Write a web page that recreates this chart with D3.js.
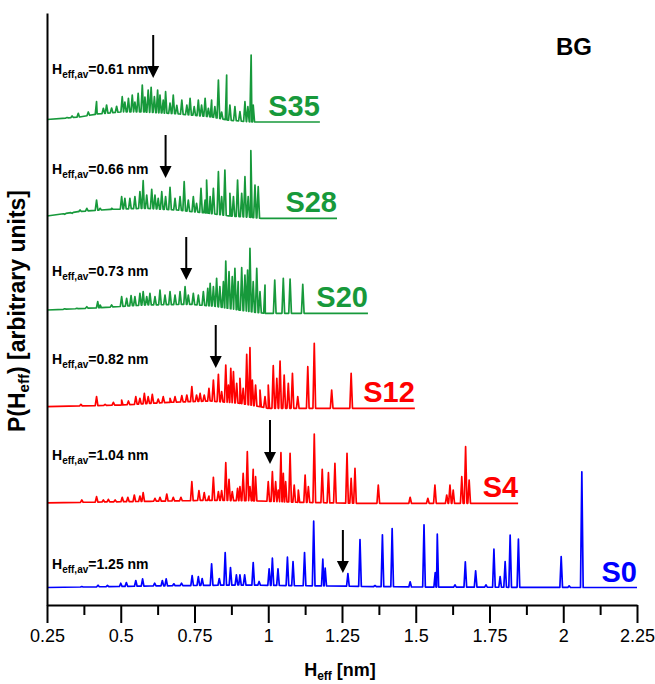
<!DOCTYPE html>
<html>
<head>
<meta charset="utf-8">
<script src="https://cdn.jsdelivr.net/npm/d3@7"></script>
<style>
  body { margin: 0; background: #fff; }
  text { font-family: "Liberation Sans", Arial, sans-serif; }
</style>
</head>
<body>
<div id="chart"></div>
<script>
// Spectra names, vertical offsets (arbitrary units), and where each trace ends
var names = ["S0", "S4", "S12", "S20", "S28", "S35"];
var offsets = [0.175, 1.017, 1.967, 2.917, 3.867, 4.83];
var endX = [2.25, 1.847, 1.497, 1.338, 1.233, 1.175];

// average height values and where the arrows point
var avLabels = ["1.25", "1.04", "0.82", "0.73", "0.66", "0.61"];
var arrowX = [1.253, 1.006, 0.822, 0.722, 0.652, 0.61];
var arrowTop = [0.75, 1.85, 2.80, 3.68, 4.70, 5.70];
var arrowTip = [0.32, 1.41, 2.37, 3.25, 4.27, 5.27];

var xTicks = [0.25, 0.5, 0.75, 1, 1.25, 1.5, 1.75, 2, 2.25];
var xTickLabels = ["0.25", "0.5", "0.75", "1", "1.25", "1.5", "1.75", "2", "2.25"];
var xMinorTicks = [0.375, 0.625, 0.875, 1.125, 1.375, 1.625, 1.875, 2.125];

// background level under each spectrum [H, level]
var s0Bg = [[0.25, 0], [0.6, 0.015], [0.9, 0.025], [1.2, 0.015], [1.5, 0.005], [2.07, 0]];
var s4Bg = [[0.25, 0.005], [0.6, 0.02], [0.8, 0.03], [0.95, 0.025], [1.1, 0.01], [1.3, 0]];
var s12Bg = [[0.25, 0.016], [0.503, 0.033], [0.667, 0.06], [0.803, 0.073], [0.904, 0.05], [0.972, 0.016], [1.0, 0]];
var s20Bg = [[0.25, 0.033], [0.43, 0.056], [0.582, 0.083], [0.735, 0.09], [0.82, 0.07], [0.9, 0.033], [0.955, 0.01], [0.99, 0]];
var s28Bg = [[0.25, 0.023], [0.355, 0.066], [0.468, 0.09], [0.58, 0.1], [0.69, 0.083], [0.8, 0.05], [0.87, 0.023], [0.94, 0.01], [0.975, 0]];
var s35Bg = [[0.25, 0.025], [0.36, 0.05], [0.42, 0.08], [0.5, 0.1], [0.58, 0.1], [0.7, 0.08], [0.81, 0.05], [0.86, 0.02], [0.945, 0]];

// peaks [H, height]
var s0Peaks = [
  [0.368, 0.01], [0.423, 0.023], [0.455, 0.02], [0.5, 0.043], [0.519, 0.05], [0.551, 0.07], [0.574, 0.087],
  [0.615, 0.043], [0.641, 0.07], [0.654, 0.087], [0.68, 0.037], [0.706, 0.043], [0.742, 0.12], [0.763, 0.11],
  [0.776, 0.09], [0.808, 0.237], [0.834, 0.09], [0.854, 0.35], [0.872, 0.2], [0.892, 0.127], [0.904, 0.127],
  [0.92, 0.127], [0.949, 0.25], [0.969, 0.06], [1.003, 0.187], [1.014, 0.293], [1.033, 0.187], [1.065, 0.303],
  [1.084, 0.26], [1.123, 0.35], [1.154, 0.663], [1.185, 0.283], [1.193, 0.193], [1.27, 0.14], [1.311, 0.48],
  [1.362, 0.02], [1.387, 0.527], [1.42, 0.59], [1.481, 0.057], [1.528, 0.627], [1.566, 0.15], [1.573, 0.533],
  [1.633, 0.027], [1.668, 0.257], [1.703, 0.167], [1.738, 0.027], [1.765, 0.383], [1.786, 0.11], [1.803, 0.26],
  [1.82, 0.523], [1.848, 0.483], [1.993, 0.31], [2.02, 0.017], [2.063, 1.157]
];
var s4Peaks = [
  [0.368, 0.033], [0.418, 0.066], [0.441, 0.033], [0.458, 0.04], [0.481, 0.033], [0.505, 0.06], [0.524, 0.06],
  [0.546, 0.083], [0.565, 0.073], [0.576, 0.106], [0.616, 0.05], [0.633, 0.06], [0.656, 0.093], [0.678, 0.06],
  [0.704, 0.06], [0.741, 0.216], [0.765, 0.126], [0.783, 0.106], [0.799, 0.073], [0.814, 0.26], [0.831, 0.116],
  [0.842, 0.126], [0.856, 0.406], [0.867, 0.24], [0.878, 0.116], [0.896, 0.15], [0.904, 0.166], [0.915, 0.3],
  [0.929, 0.516], [0.938, 0.166], [0.949, 0.34], [0.957, 0.266], [1.0, 0.216], [1.014, 0.316], [1.025, 0.216],
  [1.034, 0.133], [1.043, 0.506], [1.051, 0.3], [1.059, 0.216], [1.074, 0.5], [1.088, 0.183], [1.102, 0.133],
  [1.125, 0.283], [1.136, 0.166], [1.156, 0.693], [1.183, 0.34], [1.204, 0.306], [1.226, 0.4], [1.267, 0.5],
  [1.281, 0.25], [1.294, 0.35], [1.373, 0.183], [1.481, 0.06], [1.541, 0.05], [1.565, 0.183], [1.605, 0.083],
  [1.616, 0.183], [1.627, 0.133], [1.656, 0.266], [1.669, 0.566], [1.681, 0.233]
];
var s12Peaks = [
  [0.365, 0.04], [0.418, 0.116], [0.447, 0.04], [0.475, 0.06], [0.503, 0.083], [0.526, 0.073], [0.551, 0.116],
  [0.565, 0.1], [0.58, 0.15], [0.593, 0.116], [0.607, 0.14], [0.627, 0.093], [0.644, 0.116], [0.667, 0.1],
  [0.684, 0.116], [0.707, 0.126], [0.724, 0.133], [0.741, 0.216], [0.757, 0.133], [0.769, 0.15], [0.783, 0.133],
  [0.799, 0.2], [0.814, 0.283], [0.831, 0.34], [0.842, 0.166], [0.856, 0.433], [0.865, 0.233], [0.873, 0.4],
  [0.882, 0.366], [0.893, 0.25], [0.904, 0.3], [0.915, 0.2], [0.927, 0.54], [0.938, 0.606], [0.946, 0.283],
  [0.957, 0.233], [0.972, 0.183], [0.989, 0.116], [1.0, 0.233], [1.017, 0.426], [1.029, 0.3], [1.04, 0.473],
  [1.054, 0.333], [1.068, 0.25], [1.082, 0.35], [1.1, 0.116], [1.134, 0.416], [1.156, 0.65], [1.215, 0.183],
  [1.281, 0.35]
];
var s20Peaks = [
  [0.31, 0.045], [0.351, 0.05], [0.385, 0.066], [0.422, 0.116], [0.43, 0.083], [0.469, 0.083], [0.503, 0.166],
  [0.52, 0.15], [0.535, 0.176], [0.548, 0.166], [0.565, 0.2], [0.576, 0.216], [0.588, 0.166], [0.599, 0.2],
  [0.616, 0.166], [0.633, 0.233], [0.65, 0.183], [0.667, 0.216], [0.684, 0.183], [0.701, 0.216], [0.718, 0.266],
  [0.729, 0.183], [0.746, 0.2], [0.763, 0.183], [0.78, 0.216], [0.795, 0.25], [0.803, 0.3], [0.814, 0.266],
  [0.825, 0.35], [0.836, 0.266], [0.848, 0.316], [0.856, 0.523], [0.867, 0.416], [0.878, 0.366], [0.887, 0.45],
  [0.898, 0.316], [0.91, 0.456], [0.921, 0.383], [0.93, 0.433], [0.938, 0.65], [0.949, 0.316], [0.961, 0.45],
  [0.972, 0.216], [0.989, 0.283], [1.022, 0.333], [1.051, 0.35], [1.074, 0.343], [1.117, 0.29]
];
var s28Peaks = [
  [0.31, 0.04], [0.335, 0.05], [0.362, 0.083], [0.385, 0.1], [0.418, 0.183], [0.43, 0.1], [0.469, 0.1],
  [0.503, 0.217], [0.514, 0.2], [0.531, 0.2], [0.548, 0.217], [0.565, 0.267], [0.576, 0.376], [0.588, 0.233],
  [0.605, 0.29], [0.616, 0.233], [0.627, 0.2], [0.639, 0.266], [0.652, 0.217], [0.667, 0.31], [0.684, 0.2],
  [0.701, 0.217], [0.715, 0.366], [0.729, 0.183], [0.746, 0.217], [0.757, 0.15], [0.772, 0.3], [0.786, 0.183],
  [0.791, 0.383], [0.803, 0.217], [0.814, 0.3], [0.831, 0.466], [0.842, 0.217], [0.853, 0.483], [0.87, 0.25],
  [0.882, 0.217], [0.896, 0.383], [0.91, 0.25], [0.921, 0.416], [0.932, 0.217], [0.941, 0.676], [0.955, 0.333],
  [0.966, 0.316]
];
var s35Peaks = [
  [0.318, 0.045], [0.335, 0.06], [0.356, 0.087], [0.39, 0.1], [0.418, 0.203], [0.441, 0.137], [0.452, 0.17],
  [0.469, 0.14], [0.486, 0.157], [0.505, 0.253], [0.514, 0.2], [0.526, 0.237], [0.539, 0.27], [0.548, 0.2],
  [0.559, 0.287], [0.573, 0.37], [0.582, 0.25], [0.593, 0.32], [0.603, 0.347], [0.614, 0.253], [0.625, 0.32],
  [0.633, 0.27], [0.644, 0.22], [0.652, 0.303], [0.667, 0.19], [0.678, 0.27], [0.69, 0.167], [0.707, 0.22],
  [0.724, 0.17], [0.735, 0.237], [0.749, 0.153], [0.763, 0.22], [0.774, 0.17], [0.786, 0.237], [0.797, 0.137],
  [0.808, 0.22], [0.819, 0.153], [0.831, 0.42], [0.842, 0.1], [0.859, 0.47], [0.87, 0.17], [0.887, 0.153],
  [0.904, 0.103], [0.921, 0.203], [0.931, 0.153], [0.942, 0.67], [0.949, 0.17]
];

var allBg = [s0Bg, s4Bg, s12Bg, s20Bg, s28Bg, s35Bg];
var allPeaks = [s0Peaks, s4Peaks, s12Peaks, s20Peaks, s28Peaks, s35Peaks];

var green = "#17993b";
var colors = ["#0000ff", "#ff0000", "#ff0000", green, green, green];

var svgWidth = 655;
var svgHeight = 684;

var svg = d3.select("#chart")
    .append("svg")
    .attr("width", svgWidth)
    .attr("height", svgHeight);

var xScale = d3.scaleLinear().domain([0.25, 2.25]).range([47, 637]);
var yScale = d3.scaleLinear().domain([0, 5.92]).range([605, 13]);

// build each trace: background plus narrow spikes
var halfWidth = 0.0045;
function buildTrace(i) {
    var bg = allBg[i];
    var bgLevel = d3.scaleLinear()
        .domain(bg.map(d => d[0]))
        .range(bg.map(d => d[1]))
        .clamp(true);
    var pts = bg.map(d => [d[0], d[1]]);
    allPeaks[i].forEach(function (p) {
        pts.push([p[0] - halfWidth, bgLevel(p[0] - halfWidth)]);
        pts.push([p[0], p[1]]);
        pts.push([p[0] + halfWidth, bgLevel(p[0] + halfWidth)]);
    });
    pts.push([endX[i], 0]);
    pts.sort((a, b) => a[0] - b[0]);
    return pts.map(d => [d[0], d[1] + offsets[i]]);
}

var line = d3.line()
    .x(d => xScale(d[0]))
    .y(d => yScale(d[1]));

var traces = svg.append("g");
names.forEach(function (name, i) {
    traces.append("path")
        .datum(buildTrace(i))
        .attr("d", line)
        .attr("fill", "none")
        .attr("stroke", colors[i])
        .attr("stroke-width", 1.7)
        .attr("stroke-linejoin", "round");

    // S label sits at the end of the flat tail
    svg.append("text")
        .attr("x", xScale(endX[i]))
        .attr("y", yScale(offsets[i]) - 6)
        .attr("text-anchor", "end")
        .attr("font-size", 29)
        .attr("font-weight", "bold")
        .attr("fill", colors[i])
        .text(name);

    // average height annotation
    var t = svg.append("text")
        .attr("x", 52)
        .attr("y", yScale(arrowTip[i]) - 4)
        .attr("font-size", 14)
        .attr("font-weight", "bold")
        .attr("fill", "#000");
    t.append("tspan").text("H");
    t.append("tspan").attr("font-size", 10).attr("dy", 4).text("eff,av");
    t.append("tspan").attr("dy", -4).text("=" + avLabels[i] + " nm");

    // arrow
    var ax = xScale(arrowX[i]);
    var yTop = yScale(arrowTop[i]);
    var yTip = yScale(arrowTip[i]);
    svg.append("line")
        .attr("x1", ax).attr("x2", ax)
        .attr("y1", yTop).attr("y2", yTip - 10)
        .attr("stroke", "#000")
        .attr("stroke-width", 2);
    svg.append("path")
        .attr("d", `M${ax - 6},${yTip - 12} L${ax + 6},${yTip - 12} L${ax},${yTip} Z`)
        .attr("fill", "#000");
});

// axes
var bottomAxis = svg.append("g")
    .attr("transform", `translate(0, ${yScale(0)})`)
    .call(d3.axisBottom(xScale)
        .tickValues(xTicks)
        .tickFormat((d, i) => xTickLabels[i])
        .tickSize(18)
        .tickSizeOuter(0)
        .tickPadding(6));
bottomAxis.select(".domain").attr("stroke-width", 2);
bottomAxis.selectAll(".tick line").attr("stroke-width", 2);
bottomAxis.selectAll(".tick text")
    .attr("font-size", 18)
    .attr("font-family", "Liberation Sans, Arial, sans-serif");

var minorAxis = svg.append("g")
    .attr("transform", `translate(0, ${yScale(0)})`)
    .call(d3.axisBottom(xScale)
        .tickValues(xMinorTicks)
        .tickFormat("")
        .tickSize(10)
        .tickSizeOuter(0));
minorAxis.select(".domain").remove();
minorAxis.selectAll(".tick line").attr("stroke-width", 2);

var leftAxis = svg.append("g")
    .attr("transform", `translate(${xScale(0.25)}, 0)`)
    .call(d3.axisLeft(yScale).tickValues([]).tickSizeOuter(0));
leftAxis.select(".domain").attr("stroke-width", 2);

// axis titles
var xTitle = svg.append("text")
    .attr("x", 340)
    .attr("y", 676)
    .attr("text-anchor", "middle")
    .attr("font-size", 18)
    .attr("font-weight", "bold");
xTitle.append("tspan").text("H");
xTitle.append("tspan").attr("font-size", 12).attr("dy", 4).text("eff");
xTitle.append("tspan").attr("dy", -4).text(" [nm]");

var yTitle = svg.append("text")
    .attr("transform", "translate(25, 311) rotate(-90)")
    .attr("text-anchor", "middle")
    .attr("font-size", 23)
    .attr("font-weight", "bold");
yTitle.append("tspan").text("P(H");
yTitle.append("tspan").attr("font-size", 15).attr("dy", 4).text("eff");
yTitle.append("tspan").attr("dy", -4).text(") [arbitrary units]");

svg.append("text")
    .attr("x", 556)
    .attr("y", 55)
    .attr("font-size", 24)
    .attr("font-weight", "bold")
    .text("BG");
</script>
</body>
</html>
